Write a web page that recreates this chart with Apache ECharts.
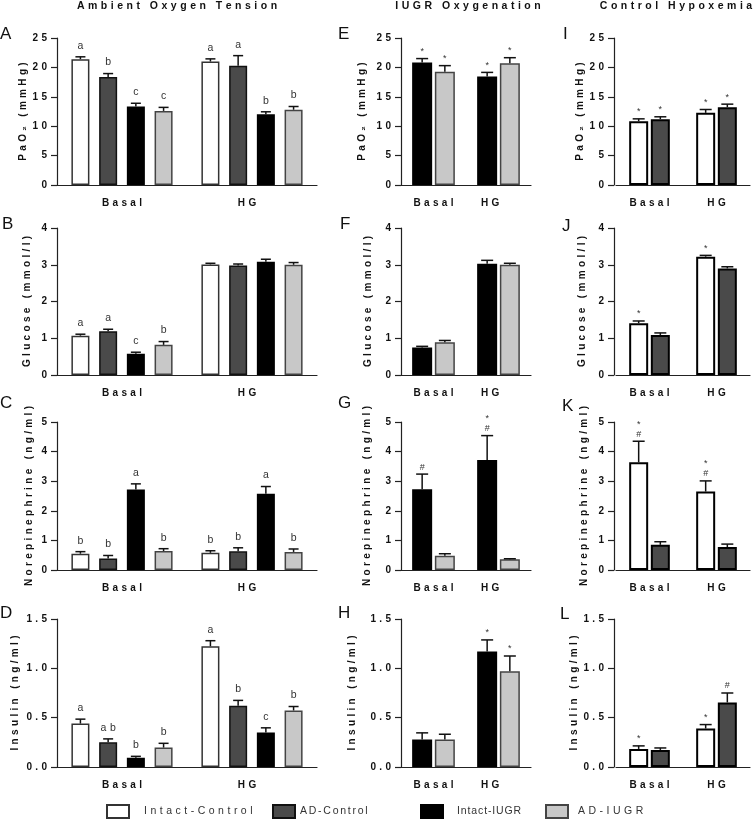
<!DOCTYPE html>
<html><head><meta charset="utf-8">
<script src="https://cdn.jsdelivr.net/npm/echarts@6/dist/echarts.min.js"></script>
<style>html,body{margin:0;padding:0;background:#fff}#c{width:756px;height:821px}</style>
</head><body><div id="c"></div>
<script>
// ---------- data ----------
const categories = ['Basal', 'HG'];
const groups = ['Intact-Control', 'AD-Control', 'Intact-IUGR', 'AD-IUGR'];
const columnTitles = ['Ambient Oxygen Tension', 'IUGR Oxygenation', 'Control Hypoxemia'];
const rowNames = ['PaO\u2082 (mmHg)', 'Glucose (mmol/l)', 'Norepinephrine (ng/ml)', 'Insulin (ng/ml)'];
const rowMax = [25, 4, 5, 1.5];
const rowStep = [5, 1, 1, 0.5];
const rowDecimals = [0, 0, 0, 1];

// each: per group [Basal, HG]
// Column 1: Ambient oxygen tension (all four groups)
const A_mean = [[21.4, 21.0], [18.35, 20.3], [13.35, 12.05], [12.6, 12.8]];
const A_sem  = [[0.4, 0.45], [0.6, 1.7], [0.55, 0.4], [0.6, 0.55]];
const A_sig  = [['a', 'a'], ['b', 'a'], ['c', 'b'], ['c', 'b']];
const B_mean = [[1.07, 3.01], [1.19, 2.98], [0.58, 3.08], [0.82, 3.0]];
const B_sem  = [[0.04, 0.03], [0.055, 0.04], [0.04, 0.07], [0.09, 0.06]];
const B_sig  = [['a', ''], ['a', ''], ['c', ''], ['b', '']];
const C_mean = [[0.55, 0.58], [0.39, 0.63], [2.72, 2.58], [0.64, 0.61]];
const C_sem  = [[0.07, 0.07], [0.10, 0.12], [0.19, 0.24], [0.08, 0.10]];
const C_sig  = [['b', 'b'], ['b', 'b'], ['a', 'a'], ['b', 'b']];
const D_mean = [[0.44, 1.224], [0.25, 0.62], [0.095, 0.35], [0.197, 0.573]];
const D_sem  = [[0.045, 0.056], [0.035, 0.055], [0.013, 0.047], [0.043, 0.04]];
const D_sig  = [['a', 'a'], ['ab', 'b'], ['b', 'c'], ['b', 'b']];
// Column 2: IUGR oxygenation (Intact-IUGR, AD-IUGR)
const E_mean = [[20.85, 18.47], [19.26, 20.7]];
const E_sem  = [[0.65, 0.68], [1.04, 0.95]];
const E_sig  = [['*', '*'], ['*', '*']];
const F_mean = [[0.745, 3.03], [0.89, 3.0]];
const F_sem  = [[0.035, 0.09], [0.05, 0.04]];
const F_sig  = [['', ''], ['', '']];
const G_mean = [[2.73, 3.72], [0.48, 0.36]];
const G_sem  = [[0.51, 0.82], [0.07, 0.02]];
const G_sig  = [['#', '*\n#'], ['', '']];
const H_mean = [[0.278, 1.17], [0.278, 0.97]];
const H_sem  = [[0.068, 0.118], [0.054, 0.155]];
const H_sig  = [['', '*'], ['', '*']];
// Column 3: Control hypoxemia (Intact-Control, AD-Control)
const I_mean = [[10.85, 12.27], [11.2, 13.24]];
const I_sem  = [[0.4, 0.57], [0.4, 0.51]];
const I_sig  = [['*', '*'], ['*', '*']];
const J_mean = [[1.41, 3.22], [1.09, 2.9]];
const J_sem  = [[0.06, 0.035], [0.055, 0.045]];
const J_sig  = [['*', '*'], ['', '']];
const K_mean = [[3.64, 2.65], [0.85, 0.775]];
const K_sem  = [[0.71, 0.36], [0.105, 0.10]];
const K_sig  = [['*\n#', '*\n#'], ['', '']];
const L_mean = [[0.183, 0.39], [0.173, 0.654]];
const L_sem  = [[0.031, 0.04], [0.02, 0.096]];
const L_sig  = [['*', '*'], ['', '#']];

const colGroups = [[0, 1, 2, 3], [2, 3], [0, 1]];
const panels = [
  ['A', 0, 0, A_mean, A_sem, A_sig], ['B', 1, 0, B_mean, B_sem, B_sig],
  ['C', 2, 0, C_mean, C_sem, C_sig], ['D', 3, 0, D_mean, D_sem, D_sig],
  ['E', 0, 1, E_mean, E_sem, E_sig], ['F', 1, 1, F_mean, F_sem, F_sig],
  ['G', 2, 1, G_mean, G_sem, G_sig], ['H', 3, 1, H_mean, H_sem, H_sig],
  ['I', 0, 2, I_mean, I_sem, I_sig], ['J', 1, 2, J_mean, J_sem, J_sig],
  ['K', 2, 2, K_mean, K_sem, K_sig], ['L', 3, 2, L_mean, L_sem, L_sig]
];

// ---------- layout & style ----------
const FONT = 'Liberation Sans, Arial, Helvetica, sans-serif';
const SP = '\u2004';
function sp(s, gap) {
  const g = gap || SP;
  return String(s).split(' ').map(w => w.split('').join(g)).join(g + ' ' + g);
}

const rowTop = [38, 228, 422, 619], rowH = [147, 147, 148, 148];
const colLeft = [57, 401, 616], colW = [260, 130, 134], yOff = [0, 0, 2];
const barW = [18, 20, 19], gapFrac = [0.54, 0.135, 0.14], capHalf = [5, 6, 6];
const hgShift = ['\u2004\u2004\u2004', '\u2004\u2004\u2004\u2004\u2004', ''];
const nameGaps = { A: 27, B: 25, C: 23, D: 37, E: 34, F: 28, G: 29, H: 44, I: 29, J: 27, K: 25, L: 24 };
const letterPos = { A: [0, 26], B: [2, 216], C: [0, 395], D: [0, 605], E: [338, 26], F: [340, 216], G: [338, 395], H: [338, 605], I: [563, 26], J: [562, 218], K: [562, 398], L: [560, 606] };
const titleX = [177, 468, 676];
const legendX = [106, 272, 420, 545];
const legendPad = [10, 0, 9, 5];
const legendGap = ['\u2004', '\u2006', '\u200A', '\u2004'];

const groupStyle = [
  { color: '#ffffff', borderColor: '#333333', borderWidth: 1.5 },
  { color: '#4a4a4a', borderColor: '#111111', borderWidth: 1.5 },
  { color: '#000000', borderColor: '#000000', borderWidth: 1.5 },
  { color: '#c8c8c8', borderColor: '#444444', borderWidth: 1.5 }
];

const grid = [], xAxis = [], yAxis = [], series = [];
panels.forEach((p, k) => {
  const [id, r, c, mean, sem, sig] = p;
  grid.push({ left: colLeft[c], top: rowTop[r], width: colW[c], height: rowH[r] });
  xAxis.push({
    type: 'category', gridIndex: k, data: categories,
    axisTick: { show: false },
    axisLine: { lineStyle: { color: '#222', width: 1.2 } },
    axisLabel: { formatter: v => sp(v) + (v === 'HG' ? hgShift[c] : ''), fontFamily: FONT, fontWeight: 'bold', fontSize: 10, color: '#111', margin: 13 }
  });
  yAxis.push({
    type: 'value', gridIndex: k, min: 0, max: rowMax[r], interval: rowStep[r], offset: yOff[c],
    splitLine: { show: false },
    axisLine: { show: true, lineStyle: { color: '#222', width: 1.2 } },
    axisTick: { show: true, length: 6, lineStyle: { color: '#222', width: 1.2 } },
    axisLabel: { formatter: v => sp(v.toFixed(rowDecimals[r])), fontFamily: FONT, fontWeight: 'bold', fontSize: 10, color: '#111', margin: 10 },
    name: sp(rowNames[r]), nameLocation: 'middle', nameRotate: 90, nameGap: nameGaps[id],
    nameTextStyle: { fontFamily: FONT, fontWeight: 'bold', fontSize: 10, color: '#111' }
  });
  const gl = colGroups[c];
  const n = gl.length;
  const step = barW[c] * (1 + gapFrac[c]);
  gl.forEach((g, i) => {
    const st = Object.assign({}, groupStyle[g]);
    if (c === 2) { st.borderWidth = 2; st.borderColor = '#000'; }
    series.push({
      type: 'bar', name: groups[g], xAxisIndex: k, yAxisIndex: k,
      data: mean[i], barWidth: barW[c], barGap: (gapFrac[c] * 100) + '%',
      itemStyle: st, z: 2
    });
    const offset = (i - (n - 1) / 2) * step;
    const ann = sig[i];
    const semArr = sem[i];
    series.push({
      type: 'custom', xAxisIndex: k, yAxisIndex: k, z: 4, silent: true,
      data: mean[i].map((m, j) => [j, m, m + semArr[j]]),
      renderItem: (params, api) => {
        const p0 = api.coord([api.value(0), api.value(1)]);
        const p1 = api.coord([api.value(0), api.value(2)]);
        const x = p0[0] + offset;
        const ch = capHalf[c];
        const children = [
          { type: 'line', shape: { x1: x, y1: p0[1], x2: x, y2: p1[1] }, style: { stroke: '#111', lineWidth: 1.5 } },
          { type: 'line', shape: { x1: x - ch, y1: p1[1], x2: x + ch, y2: p1[1] }, style: { stroke: '#111', lineWidth: 1.5 } }
        ];
        const t = ann[params.dataIndex];
        if (t) {
          const isLetter = /[a-z]/.test(t);
          children.push({
            type: 'text', x: x, y: p1[1] - (isLetter ? 5 : 2),
            style: {
              text: isLetter ? sp(t) : t, align: 'center', verticalAlign: 'bottom',
              fontFamily: FONT, fontSize: isLetter ? 10.5 : 9, lineHeight: isLetter ? 12 : 10, fill: '#333'
            }
          });
        }
        return { type: 'group', children };
      }
    });
  });
});

const graphic = [];
columnTitles.forEach((t, i) => graphic.push({
  type: 'text', x: titleX[i], y: 6,
  style: { text: sp(t), align: 'center', verticalAlign: 'middle', fontFamily: FONT, fontWeight: 'bold', fontSize: 10.5, fill: '#111' }
}));
Object.keys(letterPos).forEach(L => graphic.push({
  type: 'text', x: letterPos[L][0], y: letterPos[L][1],
  style: { text: L, align: 'left', verticalAlign: 'top', fontFamily: FONT, fontSize: 17, fill: '#111' }
}));

const legend = groups.map((g, i) => ({
  data: [g], left: legendX[i], top: 804, padding: 0,
  itemWidth: 22, itemHeight: 13, icon: 'rect', selectedMode: false,
  formatter: nm => sp(nm, legendGap[i]),
  textStyle: { fontFamily: FONT, fontSize: 10.5, color: '#333', padding: [0, 0, 0, legendPad[i]] }
}));

const chart = echarts.init(document.getElementById('c'), null, { renderer: 'canvas' });
chart.setOption({ animation: false, backgroundColor: '#fff', grid, xAxis, yAxis, series, graphic, legend });
</script></body></html>
